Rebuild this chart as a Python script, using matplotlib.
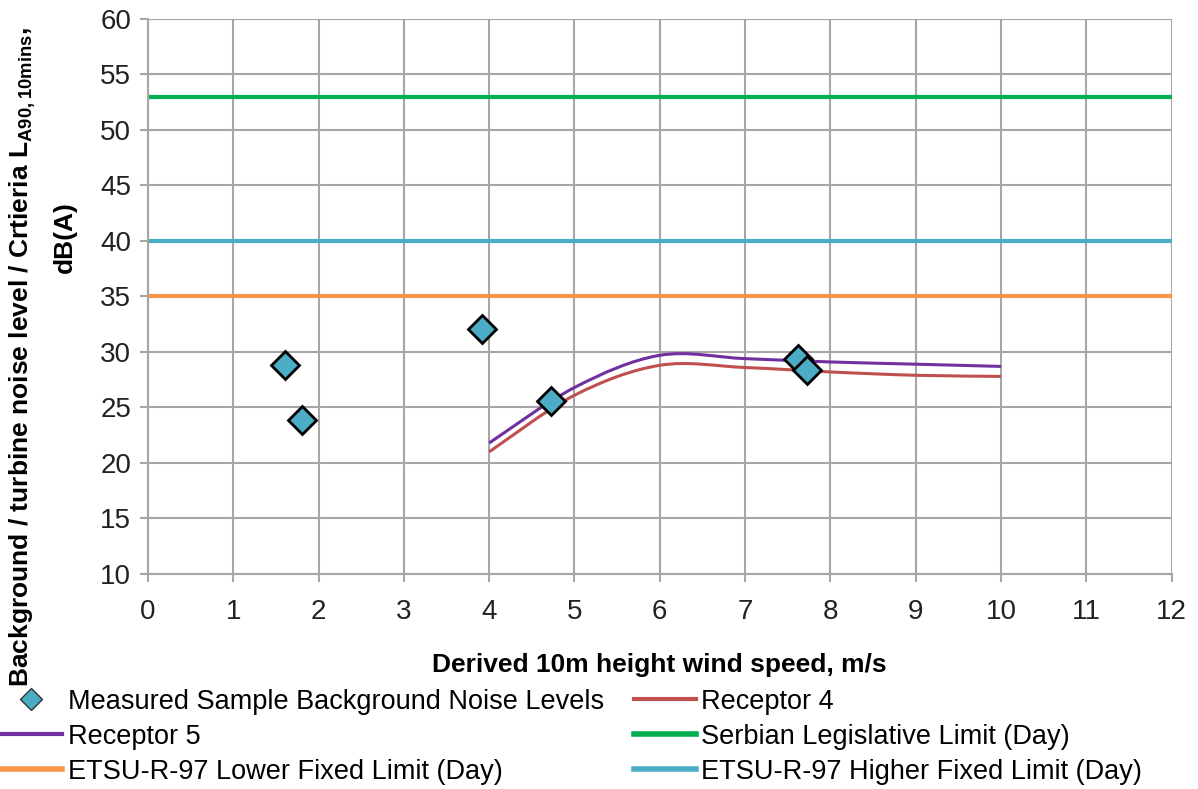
import matplotlib.pyplot as plt
from matplotlib.path import Path
from matplotlib.patches import PathPatch
from matplotlib.lines import Line2D

# measured background samples
meas_ws = [1.61, 1.81, 3.91, 4.72, 7.62, 7.73]
meas_db = [28.8, 23.9, 32.1, 25.6, 29.4, 28.4]

# predicted turbine noise at receptors
pred_ws = [4, 5, 6, 7, 8, 9, 10]
rec4_db = [21.0, 26.1, 28.8, 28.6, 28.2, 27.9, 27.8]
rec5_db = [21.8, 26.8, 29.7, 29.4, 29.1, 28.9, 28.7]

# fixed limits
serbian_limit = 53
etsu_high = 40
etsu_low = 35

C_MEAS = '#4bacc6'
C_R4 = '#c0504d'
C_R5 = '#7030a0'
C_SERB = '#00b050'
C_HIGH = '#4bacc6'
C_LOW = '#f79646'

plt.rcParams['font.family'] = ['Liberation Sans', 'DejaVu Sans']
plt.rcParams['mathtext.fontset'] = 'custom'
plt.rcParams['mathtext.bf'] = 'Liberation Sans:bold'
plt.rcParams['mathtext.rm'] = 'Liberation Sans'


def smooth_path(xs, ys):
    # bezier through every point, excel-style smoothed line
    pts = list(zip(xs, ys))
    verts = [pts[0]]
    codes = [Path.MOVETO]
    n = len(pts)
    for i in range(n - 1):
        p0 = pts[i - 1] if i > 0 else pts[i]
        p1 = pts[i]
        p2 = pts[i + 1]
        p3 = pts[i + 2] if i + 2 < n else pts[i + 1]
        c1 = (p1[0] + (p2[0] - p0[0]) / 6, p1[1] + (p2[1] - p0[1]) / 6)
        c2 = (p2[0] - (p3[0] - p1[0]) / 6, p2[1] - (p3[1] - p1[1]) / 6)
        verts += [c1, c2, p2]
        codes += [Path.CURVE4] * 3
    return Path(verts, codes)


fig = plt.figure(figsize=(11.98, 7.89), dpi=100)
ax = fig.add_axes([0.1235, 0.2725, 0.8545, 0.7035])

ax.axhline(serbian_limit, color=C_SERB, lw=3, zorder=2)
ax.axhline(etsu_high, color=C_HIGH, lw=3, zorder=2)
ax.axhline(etsu_low, color=C_LOW, lw=3, zorder=2)

ax.add_patch(PathPatch(smooth_path(pred_ws, rec4_db), fill=False, edgecolor=C_R4, lw=2.2, zorder=3))
ax.add_patch(PathPatch(smooth_path(pred_ws, rec5_db), fill=False, edgecolor=C_R5, lw=2.2, zorder=3))

ax.plot(meas_ws, meas_db, ls='none', marker='D', ms=14, mfc=C_MEAS, mec='black', mew=2, zorder=4)

ax.set_xlim(0, 12)
ax.set_ylim(10, 60)
ax.set_xticks(range(0, 13))
ax.set_yticks(range(10, 61, 5))
ax.grid(True, color='#a6a6a6', lw=1.5)
ax.set_axisbelow(True)
for s in ['top', 'right']:
    ax.spines[s].set_visible(False)
for s in ['left', 'bottom']:
    ax.spines[s].set_color('#a6a6a6')
    ax.spines[s].set_linewidth(1.5)
ax.tick_params(axis='both', labelsize=20, color='#a6a6a6', width=1.5, length=6, labelcolor='#222222')
ax.tick_params(axis='x', pad=12)
ax.tick_params(axis='y', pad=6)

ax.set_xlabel('Derived 10m height wind speed, m/s', fontsize=19, fontweight='bold', labelpad=20)
fig.text(0.019, 1 - 357 / 789,
         r'Background / turbine noise level / Crtieria L$_{\mathbf{A90,10mins}}$,',
         rotation=90, ha='center', va='center', fontsize=19, fontweight='bold')
fig.text(0.054, 1 - 237 / 789, 'dB(A)',
         rotation=90, ha='center', va='center', fontsize=19, fontweight='bold')

handles = [
    Line2D([], [], ls='none', marker='D', ms=11, mfc=C_MEAS, mec='#333333', mew=1),
    Line2D([], [], color=C_R5, lw=3),
    Line2D([], [], color=C_LOW, lw=4),
    Line2D([], [], color=C_R4, lw=3),
    Line2D([], [], color=C_SERB, lw=4),
    Line2D([], [], color=C_HIGH, lw=4),
]
labels = [
    'Measured Sample Background Noise Levels',
    'Receptor 5',
    'ETSU-R-97 Lower Fixed Limit (Day)',
    'Receptor 4',
    'Serbian Legislative Limit (Day)',
    'ETSU-R-97 Higher Fixed Limit (Day)',
]
fig.legend(handles, labels, loc='upper left', bbox_to_anchor=(0.0, 0.127), ncol=2,
           frameon=False, fontsize=19.5, handlelength=2.3, handletextpad=0.2,
           columnspacing=1.1, labelspacing=0.33, borderaxespad=0, borderpad=0)

fig.savefig('out.png', dpi=100)
